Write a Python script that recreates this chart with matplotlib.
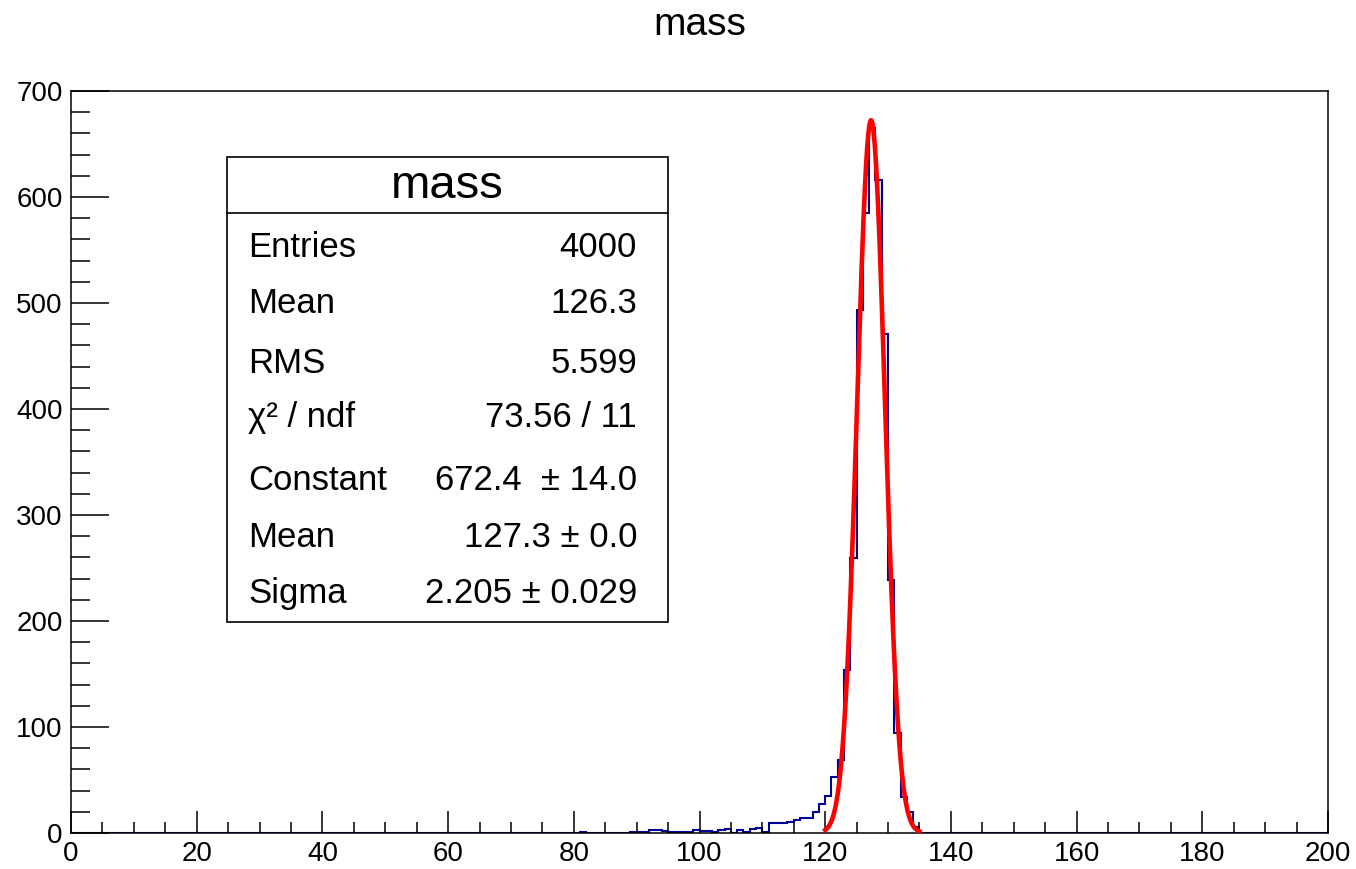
import numpy as np
import matplotlib
matplotlib.use("Agg")
import matplotlib.pyplot as plt
from matplotlib.patches import Rectangle
from matplotlib.ticker import MultipleLocator

plt.rcParams['font.family'] = ['Liberation Sans', 'DejaVu Sans']

#---------------- histogram "mass": 200 bins of width 1 from 0 to 200 ----------------
x_min = 0
x_max = 200
n_bins = 200
# low edge of every non-empty bin and its content
bin_low = [81, 89, 90, 91, 92, 93, 94, 95, 96, 97, 98, 99, 100, 101, 102, 103, 104,
           106, 107, 108, 109, 110, 111, 112, 113, 114, 115, 116, 117, 118, 119, 120,
           121, 122, 123, 124, 125, 126, 127, 128, 129, 130, 131, 132, 133, 134]
bin_content = [1, 1, 1, 1, 3, 3, 2, 1, 1, 1, 1, 3, 2, 2, 1, 3, 4,
               3, 1, 4, 5, 1, 9, 9, 9, 10, 12, 14, 14, 20, 27, 35,
               53, 69, 154, 259, 493, 585, 665, 616, 471, 239, 94, 34, 20, 6]

#---------------- gaussian fit ----------------
fit_const = 672.4
fit_mean = 127.3
fit_sigma = 2.205
fit_lo = 120
fit_hi = 135

#---------------- stats box ----------------
stat_names = ["Entries", "Mean", "RMS", "\u03c7\u00b2 / ndf", "Constant", "Mean", "Sigma"]
stat_values = ["4000", "126.3", "5.599", "73.56 / 11", "672.4  \u00b1 14.0",
               "127.3 \u00b1 0.0", "2.205 \u00b1 0.029"]

W, H = 1356, 869
def fx(px):
    return px / W
def fy(py):
    return 1 - py / H

edges = np.linspace(x_min, x_max, n_bins + 1)
counts = np.zeros(n_bins)
for lo, c in zip(bin_low, bin_content):
    counts[int(lo - x_min)] = c

fig = plt.figure(figsize=(W / 100, H / 100), dpi=100)
ax = fig.add_axes([fx(71), fy(833), fx(1328) - fx(71), fy(91) - fy(833)])

ax.stairs(counts, edges, color='#000099', linewidth=1.5, baseline=0)

xf = np.linspace(fit_lo, fit_hi, 600)
yf = fit_const * np.exp(-0.5 * ((xf - fit_mean) / fit_sigma) ** 2)
ax.plot(xf, yf, color='#ff0000', linewidth=3.3, zorder=3)

ax.set_xlim(x_min, x_max)
ax.set_ylim(0, 700)
ax.xaxis.set_major_locator(MultipleLocator(20))
ax.xaxis.set_minor_locator(MultipleLocator(5))
ax.yaxis.set_major_locator(MultipleLocator(100))
ax.yaxis.set_minor_locator(MultipleLocator(20))
ax.tick_params(axis='x', which='major', direction='in', length=16, width=1.1, pad=6, labelsize=20)
ax.tick_params(axis='x', which='minor', direction='in', length=8, width=1.1)
ax.tick_params(axis='y', which='major', direction='in', length=27, width=1.1, pad=6, labelsize=20)
ax.tick_params(axis='y', which='minor', direction='in', length=14, width=1.1)
for s in ax.spines.values():
    s.set_linewidth(1.1)

fig.text(fx(700), fy(25), "mass", ha='center', va='center', fontsize=28)

# stats box
box = Rectangle((fx(227), fy(622)), fx(668) - fx(227), fy(157) - fy(622),
                transform=fig.transFigure, facecolor='white', edgecolor='black',
                linewidth=1.2, zorder=4)
fig.add_artist(box)
fig.add_artist(plt.Line2D([fx(227), fx(668)], [fy(213), fy(213)],
                          transform=fig.transFigure, color='black', linewidth=1.2, zorder=5))
fig.text(fx(447), fy(198), "mass", ha='center', va='baseline', fontsize=34, zorder=6)

row_base = [257, 313, 373, 427, 490, 547, 603]
for name, val, yb in zip(stat_names, stat_values, row_base):
    fig.text(fx(248), fy(yb), name, ha='left', va='baseline', fontsize=25, zorder=6)
    fig.text(fx(637), fy(yb), val, ha='right', va='baseline', fontsize=25, zorder=6)

fig.savefig("out.png", dpi=100)
